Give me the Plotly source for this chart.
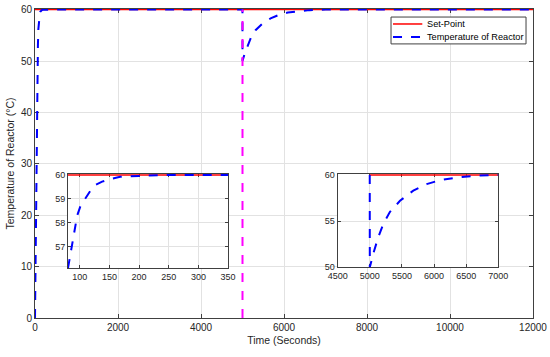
import plotly.graph_objects as go

# ---- data ----
time_main = [0, 10, 20, 30, 40, 50, 60, 70, 80, 87, 95.5, 101, 109.5, 118, 126, 137.5, 150, 168, 200, 250, 350,
             4999, 5000, 5055, 5133, 5211, 5314, 5470, 5677, 5885, 6092, 6352, 6611, 7000, 12000]
temp_main = [0, 10, 20, 29, 37, 43.5, 49, 53, 56.1, 57.1, 58.3, 58.7, 59.05, 59.35, 59.58, 59.72, 59.82, 59.92, 59.96, 60, 60,
             60, 50, 51.5, 53.3, 54.7, 56.0, 57.2, 58.3, 59.0, 59.43, 59.71, 59.9, 60, 60]
setpoint_time = [0, 12000]
setpoint_val = [60, 60]
disturb_time = [5000, 5000]
disturb_val = [0, 60]

main_yrange = [0, 60.12]
inset1_xrange = [80, 350]
inset1_yrange = [56.1, 60.04]
inset2_xrange = [4500, 7000]
inset2_yrange = [50, 60.1]
inset2_blue_start = 4900
inset2_red_start = 5000

x_ticks = [0, 2000, 4000, 6000, 8000, 10000, 12000]
x_ticklabels = ["0", "2000", "4000", "6000", "8000", "10000", "12000"]
y_ticks = [0, 10, 20, 30, 40, 50, 60]
in1_xticks = [100, 150, 200, 250, 300, 350]
in1_yticks = [57, 58, 59, 60]
in2_xticks = [4500, 5000, 5500, 6000, 6500, 7000]
in2_yticks = [50, 55, 60]
legend_labels = ["Set-Point", "Temperature of Reactor"]

RED = "#ff0000"
BLUE = "#0000ff"
MAG = "#ff00ff"
AX = "#404040"
TXT = "#262626"
GRID = "#e2e2e2"
FONT = "Liberation Sans, Arial, sans-serif"

def sub(t, v, lo, hi):
    xs, ys = [], []
    for a, b in zip(t, v):
        if lo <= a <= hi:
            xs.append(a); ys.append(b)
    return xs, ys

fig = go.Figure()

# main traces
fig.add_trace(go.Scatter(x=setpoint_time, y=setpoint_val, mode="lines", name=legend_labels[0],
                         line=dict(color=RED, width=1.5), showlegend=False))
fig.add_trace(go.Scatter(x=time_main, y=temp_main, mode="lines", name=legend_labels[1],
                         line=dict(color=BLUE, width=2, dash="dash"), showlegend=False))
fig.add_trace(go.Scatter(x=disturb_time, y=disturb_val, mode="lines", showlegend=False,
                         line=dict(color=MAG, width=2, dash="dash")))

# inset 1
x1, y1 = sub(time_main, temp_main, inset1_xrange[0], inset1_xrange[1])
fig.add_trace(go.Scatter(x=inset1_xrange, y=[60, 60], mode="lines", showlegend=False,
                         line=dict(color=RED, width=1.5), xaxis="x2", yaxis="y2"))
fig.add_trace(go.Scatter(x=x1, y=y1, mode="lines", showlegend=False,
                         line=dict(color=BLUE, width=2, dash="dash"), xaxis="x2", yaxis="y2"))

# inset 2
x2, y2 = sub(time_main, temp_main, inset2_blue_start, inset2_xrange[1])
fig.add_trace(go.Scatter(x=[inset2_red_start, inset2_xrange[1]], y=[60, 60], mode="lines", showlegend=False,
                         line=dict(color=RED, width=1.5), xaxis="x3", yaxis="y3"))
fig.add_trace(go.Scatter(x=x2, y=y2, mode="lines", showlegend=False,
                         line=dict(color=BLUE, width=2, dash="dash"), xaxis="x3", yaxis="y3"))

def axstyle(ticks, rng, size, **kw):
    d = dict(range=rng, tickvals=ticks, showgrid=True, gridcolor=GRID, gridwidth=1,
             showline=True, linecolor=AX, linewidth=1, mirror="ticks", ticks="inside",
             ticklen=4, tickcolor=AX, zeroline=False, layer="below traces",
             tickfont=dict(family=FONT, size=size, color=TXT), automargin=False)
    d.update(kw)
    return d

# legend box (drawn as shapes + text)
lx0, lx1, ly0, ly1 = 0.7149, 0.986, 0.887, 0.974
shapes = [
    dict(type="rect", xref="paper", yref="paper", x0=lx0, x1=lx1, y0=ly0, y1=ly1,
         line=dict(color=AX, width=1), fillcolor="white", layer="above"),
    dict(type="line", xref="paper", yref="paper", x0=0.7189, x1=0.7777, y0=0.9515, y1=0.9515,
         line=dict(color=RED, width=1.5), layer="above"),
    dict(type="line", xref="paper", yref="paper", x0=0.7189, x1=0.7777, y0=0.9094, y1=0.9094,
         line=dict(color=BLUE, width=2, dash="dash"), layer="above"),
]
annotations = [
    dict(xref="paper", yref="paper", x=0.7834, y=0.9515, text=legend_labels[0], showarrow=False,
         xanchor="left", yanchor="middle", font=dict(family=FONT, size=9.2, color="black")),
    dict(xref="paper", yref="paper", x=0.7834, y=0.9094, text=legend_labels[1], showarrow=False,
         xanchor="left", yanchor="middle", font=dict(family=FONT, size=9.2, color="black")),
]

fig.update_layout(
    width=550, height=357,
    margin=dict(l=35, r=17, t=9, b=39),
    paper_bgcolor="white", plot_bgcolor="white",
    font=dict(family=FONT, color=TXT),
    showlegend=False,
    shapes=shapes, annotations=annotations,
    xaxis=axstyle(x_ticks, [0, 12000], 10, domain=[0, 1], ticktext=x_ticklabels,
                  title=dict(text="Time (Seconds)", font=dict(size=10.5, color=TXT), standoff=4)),
    yaxis=axstyle(y_ticks, main_yrange, 10, domain=[0, 1],
                  title=dict(text="Temperature of Reactor (°C)", font=dict(size=10.5, color=TXT), standoff=4)),
    xaxis2=axstyle(in1_xticks, inset1_xrange, 9, domain=[0.0663, 0.3876], anchor="y2", ticklen=3),
    yaxis2=axstyle(in1_yticks, inset1_yrange, 9, domain=[0.1618, 0.466], anchor="x2", ticklen=3),
    xaxis3=axstyle(in2_xticks, inset2_xrange, 9, domain=[0.6078, 0.9303], anchor="y3", ticklen=3),
    yaxis3=axstyle(in2_yticks, inset2_yrange, 9, domain=[0.164, 0.466], anchor="x3", ticklen=3),
)

fig.write_html("out.html", config={"displayModeBar": False},
               post_script="document.body.style.margin='0px';")
